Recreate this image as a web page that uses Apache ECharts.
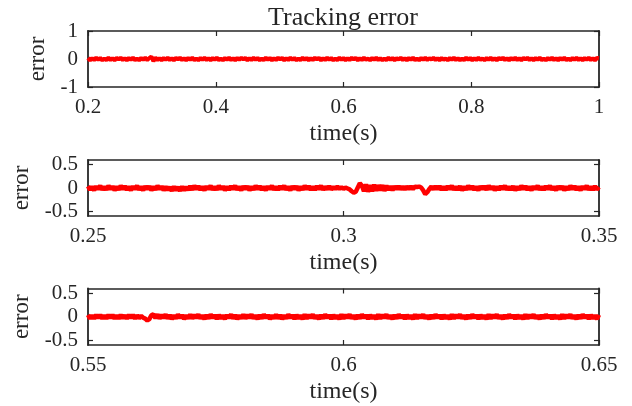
<!DOCTYPE html>
<html>
<head>
<meta charset="utf-8">
<script src="https://cdn.jsdelivr.net/npm/echarts@6/dist/echarts.min.js"></script>
<style>html,body{margin:0;padding:0;background:#fff}#c{width:632px;height:406px}</style>
</head>
<body>
<div id="c"></div>
<script>
// ---- Data ----
const titleText = "Tracking error";
// Panel 1: t = 0.2 .. 1.0, step 0.0032
const t1Start = 0.2, t1Step = 0.0032;
const err1 = [
0.04,-0.05,0.03,-0.04,0.05,-0.03,0.04,-0.05,0.02,-0.04,
0.05,-0.04,0.03,-0.05,0.04,-0.02,0.05,-0.04,0.03,-0.05,
0.04,-0.03,0.05,-0.04,0.02,-0.05,0.04,-0.03,0.05,-0.04,
0.03,0.09,-0.08,0.05,-0.04,0.03,-0.05,0.04,-0.03,0.05,
-0.04,0.03,-0.05,0.04,-0.02,0.05,-0.04,0.03,-0.05,0.04,
-0.03,0.05,-0.04,0.02,-0.05,0.04,-0.03,0.05,-0.04,0.03,
-0.05,0.04,-0.03,0.05,-0.04,0.02,-0.05,0.04,-0.03,0.05,
-0.04,0.03,-0.05,0.04,-0.03,0.05,-0.02,0.04,-0.05,0.03,
-0.04,0.05,-0.03,0.04,-0.05,0.02,-0.04,0.05,-0.03,0.04,
-0.05,0.03,-0.04,0.05,-0.02,0.04,-0.05,0.03,-0.04,0.05,
-0.03,0.04,-0.05,0.02,-0.04,0.05,-0.03,0.04,-0.05,0.03,
-0.04,0.05,-0.02,0.04,-0.05,0.03,-0.04,0.05,-0.03,0.04,
-0.05,0.02,-0.04,0.05,-0.03,0.04,-0.05,0.03,-0.04,0.05,
-0.02,0.04,-0.05,0.03,-0.04,0.05,-0.03,0.02,-0.05,0.04,
-0.03,0.05,-0.04,0.03,-0.05,0.02,-0.04,0.05,-0.03,0.04,
-0.05,0.03,-0.02,0.05,-0.04,0.03,-0.05,0.04,-0.03,0.05,
-0.04,0.02,-0.05,0.04,-0.03,0.05,-0.04,0.03,-0.02,0.05,
-0.04,0.03,-0.05,0.04,-0.03,0.02,-0.05,0.04,-0.03,0.05,
-0.04,0.03,-0.05,0.02,-0.04,0.05,-0.03,0.04,-0.05,0.03,
-0.04,0.05,-0.03,0.02,-0.05,0.04,-0.03,0.05,-0.04,0.03,
-0.05,0.04,-0.02,0.05,-0.04,0.03,-0.05,0.04,-0.03,0.05,
-0.04,0.03,-0.05,0.04,-0.02,0.05,-0.04,0.03,-0.05,0.04,
-0.03,0.05,-0.04,0.02,-0.05,0.04,-0.03,0.05,-0.04,0.03,
-0.05,0.04,-0.03,0.05,-0.04,0.02,-0.05,0.04,-0.03,0.05,
-0.04,0.03,-0.05,0.04,-0.03,0.05,-0.04,0.03,-0.05,0.04,
0.03
];
// Panel 2: t = 0.25 .. 0.35, step 0.0004
const t2Start = 0.25, t2Step = 0.0004;
const err2 = [
0.04,-0.04,0.03,-0.05,0.04,-0.03,0.05,-0.04,0.03,-0.04,
0.05,-0.03,0.04,-0.05,0.03,-0.04,0.05,-0.03,0.04,-0.04,
0.03,-0.05,0.04,-0.03,0.05,-0.04,0.03,-0.05,0.04,-0.03,
0.04,-0.05,0.03,-0.04,0.05,-0.03,0.04,-0.05,0.03,-0.04,
0.02,-0.06,0.03,-0.05,0.02,-0.06,0.03,-0.05,0.02,-0.04,
0.04,-0.04,0.05,-0.03,0.04,-0.04,0.03,-0.05,0.04,-0.03,
0.05,-0.04,0.03,-0.04,0.05,-0.03,0.04,-0.05,0.03,-0.04,
0.04,-0.03,0.05,-0.04,0.03,-0.05,0.04,-0.03,0.04,-0.05,
0.03,-0.04,0.05,-0.03,0.04,-0.04,0.03,-0.05,0.04,-0.03,
0.05,-0.04,0.03,-0.04,0.04,-0.03,0.05,-0.04,0.03,-0.05,
0.04,-0.03,0.04,-0.05,0.03,-0.04,0.05,-0.03,0.04,-0.04,
0.03,-0.04,0.04,-0.03,0.05,-0.04,0.03,-0.03,0.04,-0.03,
0.02,-0.02,0.03,-0.02,0.02,-0.02,0.01,-0.01,-0.03,-0.07,
-0.10,-0.08,0.01,0.10,0.05,-0.07,0.08,-0.08,0.06,-0.07,
0.07,-0.06,0.06,-0.05,0.06,-0.06,0.05,-0.04,0.04,-0.05,
0.04,-0.03,0.04,-0.03,0.03,-0.03,0.03,-0.02,0.03,-0.02,
0.03,0.02,0.03,0.01,-0.05,-0.13,-0.09,-0.02,0.03,-0.03,
0.04,-0.03,0.04,-0.04,0.03,-0.04,0.04,-0.03,0.05,-0.04,
0.03,-0.04,0.04,-0.05,0.03,-0.04,0.05,-0.03,0.04,-0.04,
0.03,-0.05,0.04,-0.03,0.04,-0.04,0.05,-0.03,0.04,-0.05,
0.03,-0.04,0.04,-0.03,0.05,-0.04,0.03,-0.04,0.04,-0.05,
0.03,-0.04,0.05,-0.03,0.04,-0.04,0.03,-0.05,0.04,-0.03,
0.05,-0.04,0.03,-0.04,0.04,-0.03,0.05,-0.04,0.03,-0.05,
0.04,-0.03,0.04,-0.05,0.03,-0.04,0.05,-0.03,0.04,-0.04,
0.03,-0.05,0.04,-0.03,0.05,-0.04,0.03,-0.04,0.04,-0.03,
0.02
];
// Panel 3: t = 0.55 .. 0.65, step 0.0004
const t3Start = 0.55, t3Step = 0.0004;
const err3 = [
0.04,-0.04,0.03,-0.04,0.04,-0.03,0.04,-0.04,0.03,-0.04,
0.04,-0.03,0.04,-0.04,0.03,-0.04,0.04,-0.03,0.03,-0.04,
0.04,-0.03,0.04,-0.04,0.03,-0.03,0.02,-0.02,-0.04,-0.08,
-0.05,0.03,0.05,-0.03,0.05,-0.04,0.04,-0.03,0.05,-0.04,
0.04,-0.05,0.03,-0.04,0.05,-0.03,0.04,-0.05,0.03,-0.04,
0.05,-0.04,0.04,-0.03,0.05,-0.04,0.03,-0.05,0.04,-0.04,
0.05,-0.03,0.04,-0.05,0.04,-0.04,0.03,-0.05,0.04,-0.03,
0.05,-0.04,0.04,-0.05,0.03,-0.04,0.05,-0.04,0.04,-0.03,
0.05,-0.04,0.03,-0.05,0.04,-0.04,0.05,-0.03,0.04,-0.05,
0.03,-0.04,0.05,-0.04,0.04,-0.05,0.03,-0.04,0.05,-0.03,
0.04,-0.05,0.04,-0.04,0.03,-0.05,0.05,-0.04,0.04,-0.03,
0.05,-0.04,0.03,-0.05,0.04,-0.04,0.05,-0.03,0.04,-0.05,
0.04,-0.04,0.03,-0.05,0.05,-0.04,0.04,-0.03,0.05,-0.04,
0.03,-0.05,0.04,-0.04,0.05,-0.03,0.04,-0.05,0.04,-0.04,
0.03,-0.05,0.05,-0.04,0.04,-0.03,0.05,-0.04,0.03,-0.05,
0.04,-0.04,0.05,-0.03,0.04,-0.05,0.04,-0.04,0.03,-0.05,
0.05,-0.04,0.04,-0.03,0.05,-0.04,0.03,-0.05,0.04,-0.04,
0.05,-0.03,0.04,-0.05,0.04,-0.04,0.03,-0.05,0.05,-0.04,
0.04,-0.03,0.05,-0.04,0.03,-0.05,0.04,-0.04,0.05,-0.03,
0.04,-0.05,0.04,-0.04,0.03,-0.05,0.05,-0.04,0.04,-0.03,
0.05,-0.04,0.03,-0.05,0.04,-0.04,0.05,-0.03,0.04,-0.05,
0.04,-0.04,0.03,-0.05,0.05,-0.04,0.04,-0.03,0.05,-0.04,
0.03,-0.05,0.04,-0.04,0.05,-0.03,0.04,-0.05,0.04,-0.04,
0.03,-0.05,0.05,-0.04,0.04,-0.03,0.05,-0.04,0.03,-0.05,
0.04,-0.04,0.05,-0.03,0.04,-0.05,0.04,-0.04,0.03,-0.05,
0.04
];
const xRanges = [[0.2, 1.0, 0.2], [0.25, 0.35, 0.05], [0.55, 0.65, 0.05]];
const yTicks1 = [-1, 0, 1];
const yTicks23 = [-0.5, 0, 0.5];
const xName = "time(s)";
const yName = "error";

// ---- Build ----
function pairs(start, step, vals) {
  return vals.map((v, i) => [start + i * step, v]);
}
const FONT = '"Liberation Serif","DejaVu Serif",serif';
const TXT = '#262626';
const AX = '#262626';
const grids = [
  {left: 88, right: 33, top: 31, height: 56},
  {left: 88, right: 33, top: 160, height: 56},
  {left: 88, right: 33, top: 288.5, height: 56.5}
];
function fmtNum(v) {
  return String(parseFloat(v.toFixed(4)));
}
const xAxes = [], yAxes = [];
grids.forEach((g, k) => {
  const r = xRanges[k];
  const common = {
    type: 'value', gridIndex: k, min: r[0], max: r[1], interval: r[2],
    splitLine: {show: false},
    axisLine: {show: true, onZero: false, lineStyle: {color: AX, width: 1.5}},
    axisTick: {show: true, inside: true, length: 5, lineStyle: {color: AX, width: 1.2}}
  };
  xAxes.push(Object.assign({}, common, {
    position: 'bottom',
    name: xName, nameLocation: 'middle', nameGap: 35,
    nameTextStyle: {fontFamily: FONT, fontSize: 24, color: TXT},
    axisLabel: {show: true, margin: 10, fontFamily: FONT, fontSize: 21, color: TXT, formatter: fmtNum}
  }));
  xAxes.push(Object.assign({}, common, {
    position: 'top', axisLabel: {show: false}
  }));
  const ycommon = {
    type: 'value', gridIndex: k,
    min: k === 0 ? -1 : -0.6, max: k === 0 ? 1 : 0.6,
    splitLine: {show: false},
    axisLine: {show: true, onZero: false, lineStyle: {color: AX, width: 1.8}},
    axisTick: {show: true, inside: true, length: 5, lineStyle: {color: AX, width: 1.2},
      customValues: k === 0 ? yTicks1 : yTicks23}
  };
  yAxes.push(Object.assign({}, ycommon, {
    position: 'left',
    name: yName, nameLocation: 'middle', nameGap: k === 0 ? 36 : 54, nameRotate: 90,
    nameTextStyle: {fontFamily: FONT, fontSize: 23, color: TXT},
    axisLabel: {show: true, margin: 10, fontFamily: FONT, fontSize: 21, color: TXT,
      customValues: k === 0 ? yTicks1 : yTicks23, formatter: fmtNum}
  }));
  yAxes.push(Object.assign({}, ycommon, {
    position: 'right', axisLabel: {show: false}
  }));
});
const widths = [4, 4.5, 4.5];
const series = [
  pairs(t1Start, t1Step, err1),
  pairs(t2Start, t2Step, err2),
  pairs(t3Start, t3Step, err3)
].map((d, k) => ({
  type: 'line', xAxisIndex: k * 2, yAxisIndex: k * 2, data: d,
  showSymbol: false, symbol: 'none', sampling: null, clip: true,
  lineStyle: {color: '#ff0000', width: widths[k]}, animation: false
}));

const chart = echarts.init(document.getElementById('c'), null, {renderer: 'canvas'});
chart.setOption({
  backgroundColor: '#fff',
  animation: false,
  title: {text: titleText, left: 338, top: 0, textAlign: 'center',
    textStyle: {fontFamily: FONT, fontSize: 26, fontWeight: 'normal', color: TXT}},
  grid: grids,
  xAxis: xAxes,
  yAxis: yAxes,
  series: series
});
</script>
</body>
</html>
